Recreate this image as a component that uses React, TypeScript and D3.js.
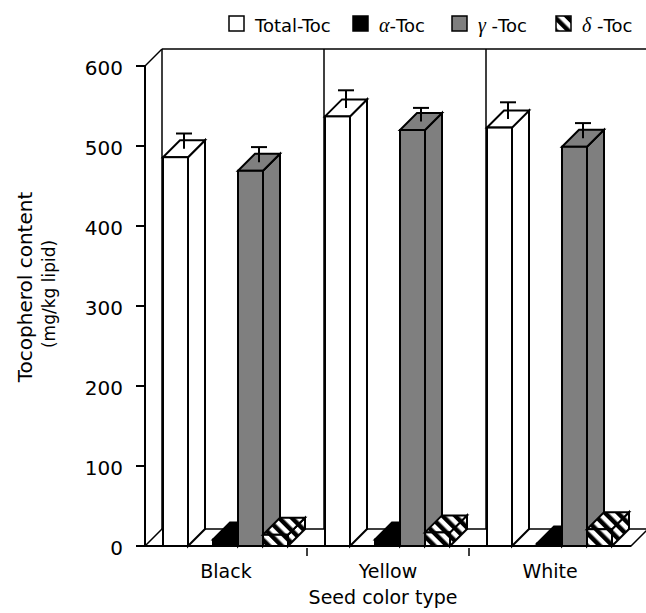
import * as d3 from "d3";

const categories = ["Black", "Yellow", "White"];
const totalToc = [486, 537, 523];
const totalErr = [19, 22, 21];
const alphaToc = [8, 8, 3];
const gammaToc = [469, 520, 499];
const gammaErr = [19, 17, 19];
const deltaToc = [14, 17, 21];
const yTicks = [0, 100, 200, 300, 400, 500, 600];

const W = 646;
const H = 613;
const DX = 17; // 3d depth offset
const DY = 17;
const FONT = "DejaVu Sans, Verdana, sans-serif";
const GRAY = "#7f7f7f";

type Bar = { slot: string; value: number; err?: number; fill: string };

function Box({ x0, w, y0, yv, fill }: { x0: number; w: number; y0: number; yv: number; fill: string }) {
  const pts = (a: number[][]) => a.map(p => p.join(",")).join(" ");
  return (
    <g fill={fill} stroke="#000" strokeWidth={2} strokeLinejoin="miter">
      <polygon points={pts([[x0 + w, yv], [x0 + w + DX, yv - DY], [x0 + w + DX, y0 - DY], [x0 + w, y0]])} />
      <polygon points={pts([[x0, yv], [x0 + w, yv], [x0 + w + DX, yv - DY], [x0 + DX, yv - DY]])} />
      <rect x={x0} y={yv} width={w} height={y0 - yv} />
    </g>
  );
}

export default function App() {
  const x = d3.scaleBand().domain(categories).range([145, 631]);
  const slot = d3.scaleBand().domain(["total", "gap", "alpha", "gamma", "delta"]).range([18, 143]);
  const y = d3.scaleLinear().domain([0, 600]).range([546, 66]);
  const y0 = y(0);
  const yTop = y(600);
  const left = x.range()[0];
  const right = x.range()[1];
  const w = slot.bandwidth();

  const legend = [
    { x: 229, fill: "#fff", label: [{ t: "Total-Toc", greek: false }] },
    { x: 353, fill: "#000", label: [{ t: "α", greek: true }, { t: "-Toc", greek: false }] },
    { x: 452, fill: GRAY, label: [{ t: "γ", greek: true }, { t: " -Toc", greek: false }] },
    { x: 556, fill: "url(#hatch)", label: [{ t: "δ", greek: true }, { t: " -Toc", greek: false }] },
  ];

  return (
    <svg width={W} height={H} style={{ position: "absolute", left: 0, top: 0, background: "#fff" }} fontFamily={FONT}>
      <defs>
        <pattern id="hatch" width={9} height={9} patternUnits="userSpaceOnUse" patternTransform="rotate(-45)">
          <rect width={9} height={9} fill="#fff" />
          <rect width={4.5} height={9} fill="#000" />
        </pattern>
      </defs>

      {/* walls */}
      <g fill="none" stroke="#000" strokeWidth={1.5}>
        <line x1={left + DX} y1={yTop - DY} x2={W + 10} y2={yTop - DY} />
        <line x1={left + DX} y1={yTop - DY} x2={left + DX} y2={y0 - DY} />
        <line x1={left} y1={yTop} x2={left + DX} y2={yTop - DY} />
        {categories.slice(1).map(c => (
          <line key={c} x1={x(c)! + DX} y1={yTop - DY} x2={x(c)! + DX} y2={y0 - DY} />
        ))}
      </g>
      {/* floor */}
      <polygon
        points={`${left},${y0} ${right},${y0} ${right + DX},${y0 - DY} ${left + DX},${y0 - DY}`}
        fill="#fff"
        stroke="#000"
        strokeWidth={1.5}
      />

      {/* bars */}
      {categories.map((c, i) => {
        const bars: Bar[] = [
          { slot: "total", value: totalToc[i], err: totalErr[i], fill: "#fff" },
          { slot: "alpha", value: alphaToc[i], fill: "#000" },
          { slot: "gamma", value: gammaToc[i], err: gammaErr[i], fill: GRAY },
          { slot: "delta", value: deltaToc[i], fill: "url(#hatch)" },
        ];
        return (
          <g key={c}>
            {bars.map(b => {
              const x0 = x(c)! + slot(b.slot)!;
              const yv = y(b.value);
              const cx = x0 + w / 2 + DX / 2;
              const cy = yv - DY / 2;
              const ey = b.err ? y(b.value + b.err) - DY / 2 : cy;
              return (
                <g key={b.slot}>
                  <Box x0={x0} w={w} y0={y0} yv={yv} fill={b.fill} />
                  {b.err ? (
                    <g stroke="#000" strokeWidth={2}>
                      <line x1={cx} y1={cy} x2={cx} y2={ey} />
                      <line x1={cx - 8} y1={ey} x2={cx + 8} y2={ey} />
                    </g>
                  ) : null}
                </g>
              );
            })}
          </g>
        );
      })}

      {/* axes */}
      <g stroke="#000" strokeWidth={2}>
        <line x1={left} y1={yTop} x2={left} y2={y0} />
        <line x1={left} y1={y0} x2={right} y2={y0} />
        {yTicks.map(t => (
          <line key={t} x1={left - 9} y1={y(t)} x2={left} y2={y(t)} />
        ))}
        {categories.slice(1).map(c => (
          <line key={c} x1={x(c)!} y1={y0 + 2} x2={x(c)!} y2={y0 + 10} strokeWidth={1.5} />
        ))}
      </g>
      {yTicks.map(t => (
        <text key={t} x={left - 22} y={y(t) + 9} textAnchor="end" fontSize={20}>
          {t}
        </text>
      ))}
      {categories.map(c => (
        <text key={c} x={x(c)! + x.bandwidth() / 2} y={578} textAnchor="middle" fontSize={19}>
          {c}
        </text>
      ))}
      <text x={383} y={604} textAnchor="middle" fontSize={19}>
        Seed color type
      </text>
      <text transform="translate(32,287) rotate(-90)" textAnchor="middle" fontSize={20}>
        Tocopherol content
      </text>
      <text transform="translate(55,294) rotate(-90)" textAnchor="middle" fontSize={17}>
        (mg/kg lipid)
      </text>

      {/* legend */}
      {legend.map((l, i) => (
        <g key={i}>
          <rect x={l.x} y={16} width={15} height={15} fill={l.fill} stroke="#000" strokeWidth={1.5} />
          <text x={l.x + 26} y={32} fontSize={18}>
            {l.label.map((s, j) =>
              s.greek ? (
                <tspan key={j} fontFamily="Liberation Serif, serif" fontStyle="italic" fontSize={20}>
                  {s.t}
                </tspan>
              ) : (
                <tspan key={j}>{s.t}</tspan>
              )
            )}
          </text>
        </g>
      ))}
    </svg>
  );
}
